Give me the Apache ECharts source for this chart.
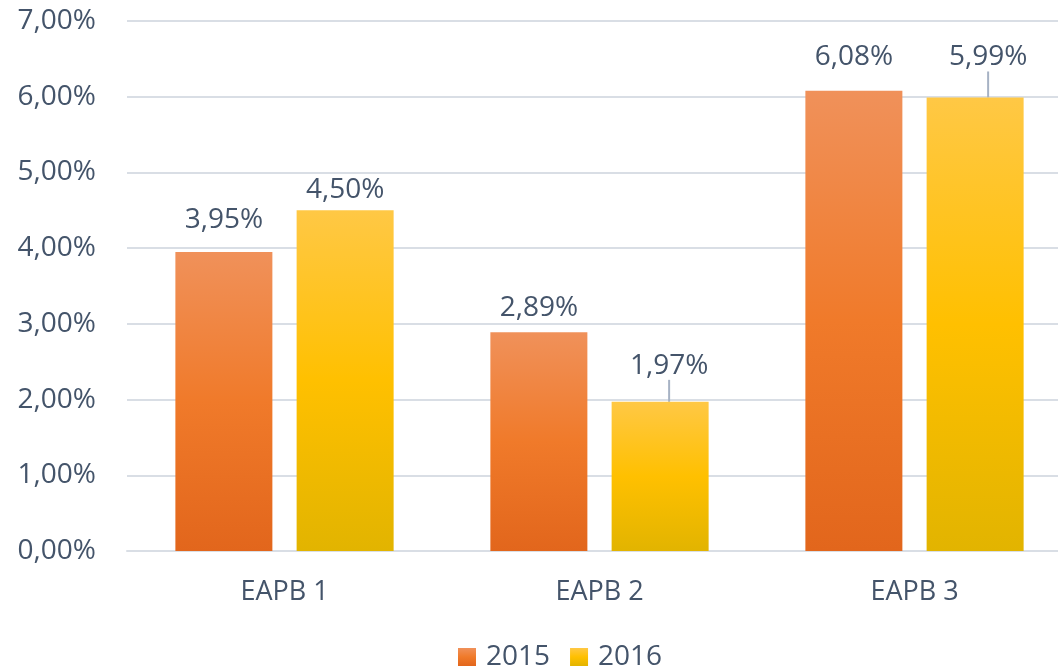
<!DOCTYPE html>
<html>
<head>
<meta charset="utf-8">
<script src="https://cdn.jsdelivr.net/npm/echarts@6/dist/echarts.min.js"></script>
<style>
  html, body { margin: 0; padding: 0; background: #fff; }
  #chart { width: 1058px; height: 668px; }
</style>
</head>
<body>
<div id="chart"></div>
<script>
const categories = ['EAPB 1', 'EAPB 2', 'EAPB 3'];
const seriesNames = ['2015', '2016'];
const values2015 = [3.95, 2.89, 6.08];
const values2016 = [4.50, 1.97, 5.99];
const yTicks = [0, 1, 2, 3, 4, 5, 6, 7];

const textColor = '#44546A';
const font = '"Open Sans", sans-serif';

function fmt(v) {
  return v.toFixed(2).replace('.', ',') + '%';
}

function grad(top, mid, bottom) {
  return new echarts.graphic.LinearGradient(0, 0, 0, 1, [
    { offset: 0, color: top },
    { offset: 0.5, color: mid },
    { offset: 1, color: bottom }
  ]);
}

// label distances above the bar top (px), and moved labels with leader lines
const dist2015 = [18, 10, 20];
const dist2016 = [6, 6, 6];
const moved2016 = { 1: [9, -16], 2: [13, -20] };

const chart = echarts.init(document.getElementById('chart'));

chart.setOption({
  animation: false,
  textStyle: { fontFamily: font },
  grid: {
    left: 127, top: 21, width: 945, bottom: 117,
    containLabel: false, outerBoundsMode: 'none'
  },
  legend: {
    top: 638,
    left: 453,
    itemWidth: 18,
    itemHeight: 18,
    itemGap: 20,
    icon: 'rect',
    textStyle: { color: textColor, fontSize: 28, fontFamily: font, padding: [0, 0, 0, 5] },
    data: seriesNames
  },
  xAxis: {
    type: 'category',
    data: categories,
    axisLine: { lineStyle: { color: '#D9DEE5', width: 2 } },
    axisTick: { show: false },
    axisLabel: { color: textColor, fontSize: 27, margin: 28, fontFamily: font }
  },
  yAxis: {
    type: 'value',
    min: yTicks[0],
    max: yTicks[yTicks.length - 1],
    interval: 1,
    axisLine: { show: false },
    axisTick: { show: false },
    splitLine: { lineStyle: { color: '#D9DEE5', width: 2 } },
    axisLabel: { color: textColor, fontSize: 28, margin: 31, formatter: fmt, fontFamily: font }
  },
  series: [
    {
      name: seriesNames[0],
      type: 'bar',
      barWidth: 97,
      barGap: '25%',
      itemStyle: { color: grad('#F0915A', '#F07A2A', '#E2661C') },
      data: values2015.map((v, i) => ({
        value: v,
        label: { distance: dist2015[i] }
      })),
      label: {
        show: true,
        position: 'top',
        color: textColor,
        fontSize: 28,
        fontFamily: font,
        formatter: p => fmt(p.value)
      }
    },
    {
      name: seriesNames[1],
      type: 'bar',
      barWidth: 97,
      barGap: '25%',
      itemStyle: { color: grad('#FFC845', '#FFC000', '#E2B400') },
      data: values2016.map((v, i) => ({
        value: v,
        label: { distance: dist2016[i] },
        labelLine: { show: !!moved2016[i] }
      })),
      label: {
        show: true,
        position: 'top',
        color: textColor,
        fontSize: 28,
        fontFamily: font,
        formatter: p => fmt(p.value)
      },
      labelLine: {
        show: false,
        lineStyle: { color: '#A6B2C4', width: 2 }
      },
      labelLayout: p => {
        const m = moved2016[p.dataIndex];
        return m ? { dx: m[0], dy: m[1] } : {};
      }
    }
  ]
});
</script>
</body>
</html>
